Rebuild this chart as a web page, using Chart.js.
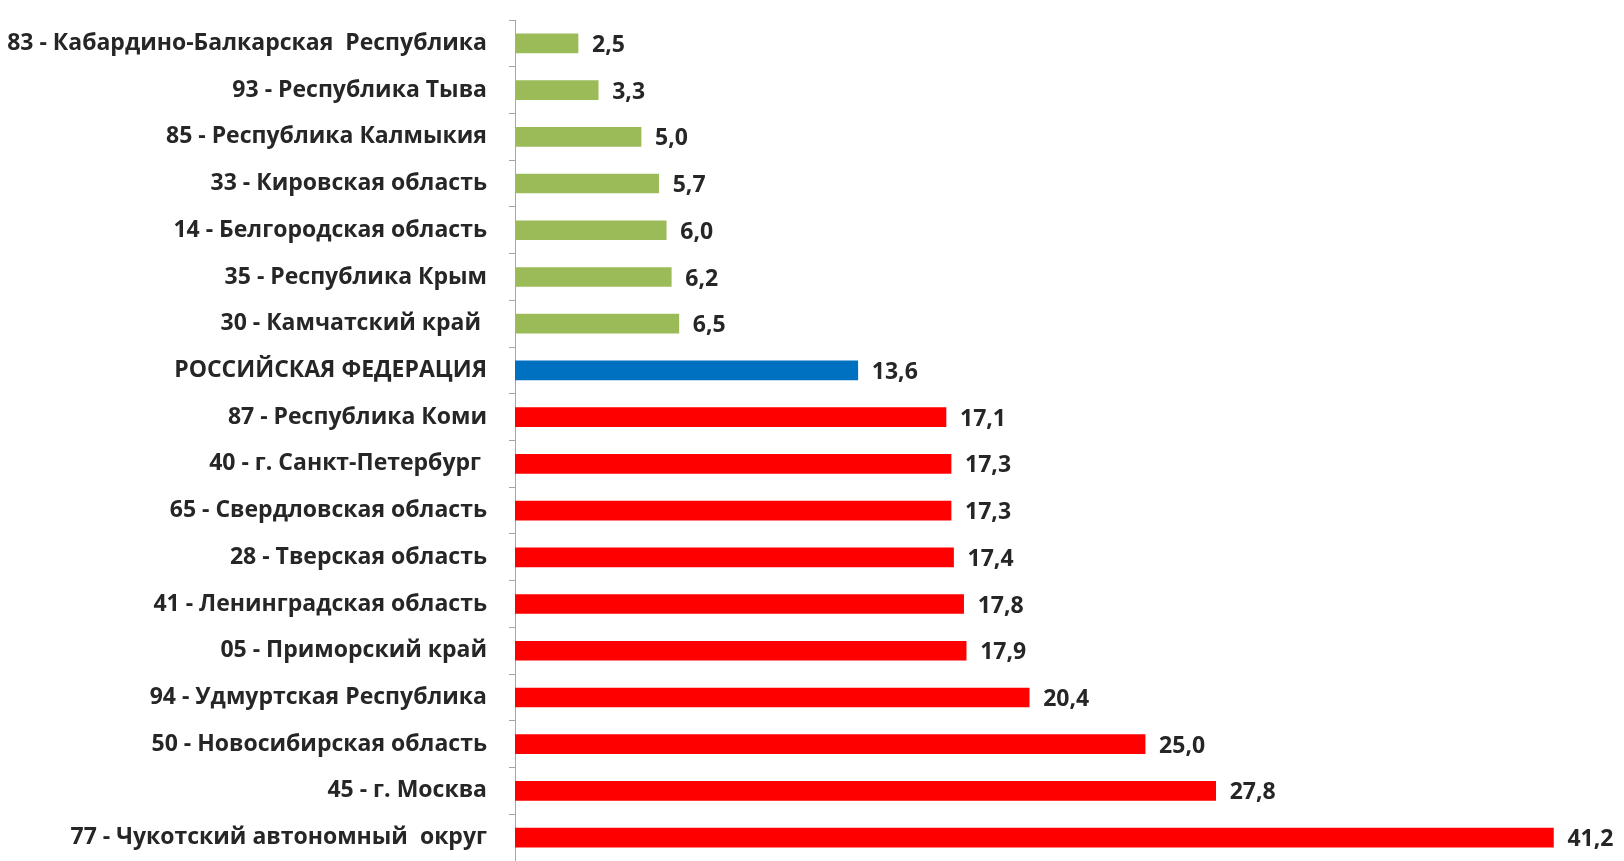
<!DOCTYPE html>
<html>
<head>
<meta charset="utf-8">
<script src="https://cdn.jsdelivr.net/npm/chart.js@4/dist/chart.umd.min.js"></script>
<style>
  html,body{margin:0;padding:0;background:#fff;overflow:hidden;}
  canvas{display:block;}
</style>
</head>
<body>
<canvas id="chart" width="1624" height="861"></canvas>
<script>
const regions = [
  '83 - Кабардино-Балкарская  Республика',
  '93 - Республика Тыва',
  '85 - Республика Калмыкия',
  '33 - Кировская область',
  '14 - Белгородская область',
  '35 - Республика Крым',
  '30 - Камчатский край ',
  'РОССИЙСКАЯ ФЕДЕРАЦИЯ',
  '87 - Республика Коми',
  '40 - г. Санкт-Петербург ',
  '65 - Свердловская область',
  '28 - Тверская область',
  '41 - Ленинградская область',
  '05 - Приморский край',
  '94 - Удмуртская Республика',
  '50 - Новосибирская область',
  '45 - г. Москва',
  '77 - Чукотский автономный  округ'
];
const values = [2.5, 3.3, 5.0, 5.7, 6.0, 6.2, 6.5, 13.6, 17.1, 17.3, 17.3, 17.4, 17.8, 17.9, 20.4, 25.0, 27.8, 41.2];
// low / country / high
const groups = ['low','low','low','low','low','low','low','rf','high','high','high','high','high','high','high','high','high','high'];

const groupColors = { low: '#9BBB59', rf: '#0070C0', high: '#FF0000' };
const FONT = '"Open Sans", "DejaVu Sans", sans-serif';

const valueLabels = {
  id: 'valueLabels',
  afterDatasetsDraw(chart){
    const ctx = chart.ctx;
    const meta = chart.getDatasetMeta(0);
    ctx.save();
    ctx.font = '700 23px ' + FONT;
    ctx.fillStyle = '#262626';
    ctx.textAlign = 'left';
    ctx.textBaseline = 'middle';
    meta.data.forEach((bar, i) => {
      ctx.fillText(values[i].toFixed(1).replace('.', ','), bar.x + 14, bar.y + 2);
    });
    ctx.restore();
  }
};

new Chart(document.getElementById('chart'), {
  type: 'bar',
  data: {
    labels: regions,
    datasets: [{
      data: values,
      backgroundColor: groups.map(g => groupColors[g]),
      barThickness: 19,
      borderWidth: 0
    }]
  },
  options: {
    indexAxis: 'y',
    responsive: false,
    animation: false,
    layout: { padding: { top: 20, bottom: 0, left: 0, right: 0 } },
    plugins: { legend: { display: false }, tooltip: { enabled: false } },
    scales: {
      x: {
        display: false,
        min: 0,
        max: 44
      },
      y: {
        afterFit(scale){
          scale.width = 515;
          scale.paddingTop = 0;
          scale.paddingBottom = 0;
        },
        border: { display: true, color: '#A6A6A6', width: 1 },
        grid: { drawOnChartArea: false, drawTicks: true, tickLength: 6, color: '#A6A6A6', offset: true },
        ticks: {
          padding: 22,
          color: '#262626',
          font: { family: FONT, size: 23, weight: '700' }
        }
      }
    }
  },
  plugins: [valueLabels]
});
</script>
</body>
</html>
